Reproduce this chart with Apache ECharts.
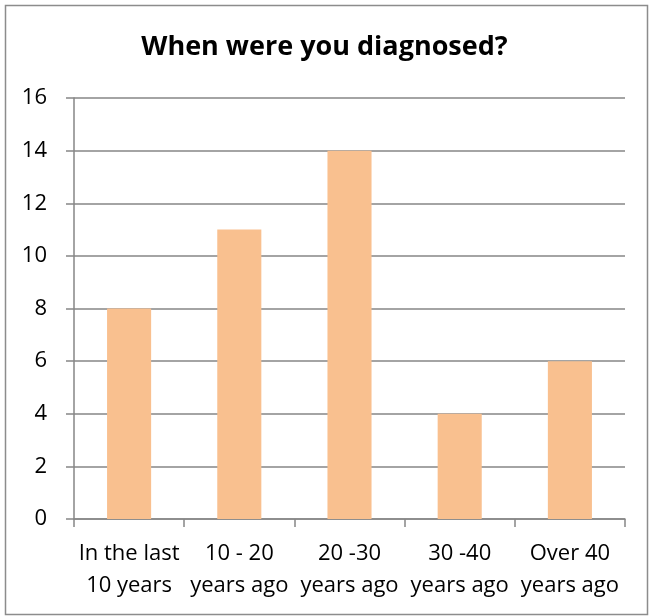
<!DOCTYPE html>
<html>
<head>
<meta charset="utf-8">
<script src="https://cdn.jsdelivr.net/npm/echarts@6/dist/echarts.min.js"></script>
<style>
html,body{margin:0;padding:0;background:#fff;}
#chart{width:649px;height:616px;}
</style>
</head>
<body>
<div id="chart"></div>
<script>
const titleText = 'When were you diagnosed?';
const categories = ['In the last\n10 years', '10 - 20\nyears ago', '20 -30\nyears ago', '30 -40\nyears ago', 'Over 40\nyears ago'];
const values = [8, 11, 14, 4, 6];
const yTicks = { min: 0, max: 16, interval: 2 };

const chart = echarts.init(document.getElementById('chart'), null, { renderer: 'canvas' });
const FONT = '"Open Sans", Lato, sans-serif';
chart.setOption({
  animation: false,
  backgroundColor: '#fff',
  graphic: [{
    type: 'rect', left: 3, top: 3, silent: true, z: -1,
    shape: { width: 642, height: 609 },
    style: { fill: 'none', stroke: '#8c8c8c', lineWidth: 1.5 }
  }],
  title: {
    text: titleText, left: 'center', top: 29,
    textStyle: { fontFamily: FONT, fontSize: 27, fontWeight: 'bold', color: '#000' }
  },
  grid: { left: 74, right: 24, top: 98, bottom: 97, containLabel: false },
  xAxis: {
    type: 'category', data: categories,
    axisLine: { lineStyle: { color: '#868686', width: 1.5 } },
    axisTick: { show: true, alignWithLabel: false, length: 8, lineStyle: { color: '#868686', width: 1.5 } },
    axisLabel: { fontFamily: FONT, fontSize: 22, color: '#000', margin: 19, lineHeight: 32, interval: 0 }
  },
  yAxis: {
    type: 'value', min: yTicks.min, max: yTicks.max, interval: yTicks.interval,
    axisLine: { show: true, lineStyle: { color: '#868686', width: 1.5 } },
    axisTick: { show: true, length: 8, lineStyle: { color: '#868686', width: 1.5 } },
    splitLine: { lineStyle: { color: '#868686', width: 1.5 } },
    axisLabel: { fontFamily: FONT, fontSize: 22, color: '#000', margin: 27 }
  },
  series: [{
    type: 'bar', data: values, barWidth: '40%',
    itemStyle: { color: '#F9C08F' }
  }]
});
</script>
</body>
</html>
